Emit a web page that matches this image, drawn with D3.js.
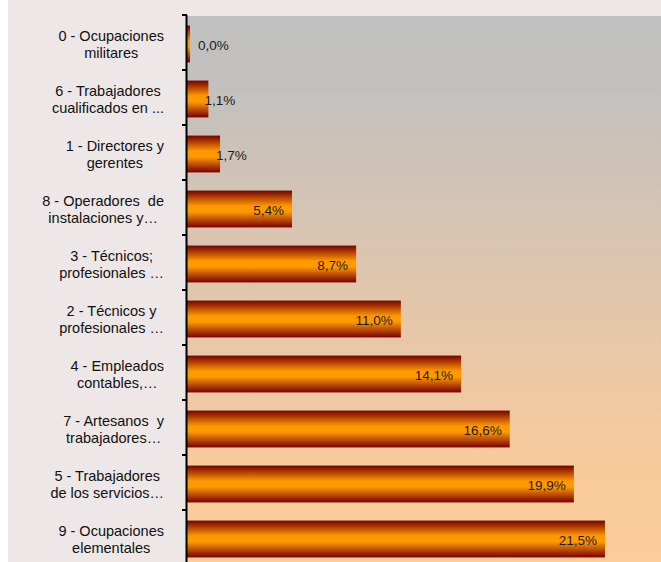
<!DOCTYPE html>
<html>
<head>
<meta charset="utf-8">
<script src="https://cdn.jsdelivr.net/npm/d3@7"></script>
<style>
    body { margin: 0; background: #ffffff; }
    text { font-family: "Liberation Sans", Arial, sans-serif; white-space: pre; }
</style>
</head>
<body>
<div id="chart"></div>
<script>
// categories, top to bottom, as the two wrapped lines shown
const categories = [
    ["0 - Ocupaciones", "militares"],
    ["6 - Trabajadores", "cualificados en ..."],
    ["1 - Directores y", "gerentes"],
    ["8 - Operadores  de", "instalaciones y…"],
    ["3 - Técnicos;", "profesionales …"],
    ["2 - Técnicos y", "profesionales …"],
    ["4 - Empleados", "contables,…"],
    ["7 - Artesanos  y", "trabajadores…"],
    ["5 - Trabajadores", "de los servicios…"],
    ["9 - Ocupaciones", "elementales"]
];
const values = [0.04, 1.1, 1.7, 5.4, 8.7, 11.0, 14.1, 16.6, 19.9, 21.5];
const xDomain = [0, 25];

function drawChart() {
    d3.select("#chart svg").remove();

    const W = 661, H = 562;
    const margin = { top: 15, right: -12, bottom: -3, left: 187 };
    const width = W - margin.left - margin.right;
    const height = H - margin.top - margin.bottom;

    const svg = d3.select("#chart")
        .append("svg")
        .attr("width", W)
        .attr("height", H);

    const defs = svg.append("defs");

    const bg = defs.append("linearGradient")
        .attr("id", "plotBg")
        .attr("x1", 0).attr("y1", 0).attr("x2", 0).attr("y2", 1);
    bg.append("stop").attr("offset", "0%").attr("stop-color", "#c0c0c0");
    bg.append("stop").attr("offset", "12%").attr("stop-color", "#c2c0bf");
    bg.append("stop").attr("offset", "82%").attr("stop-color", "#f9cb9c");
    bg.append("stop").attr("offset", "100%").attr("stop-color", "#fccc9b");

    const barGrad = defs.append("linearGradient")
        .attr("id", "barGrad")
        .attr("x1", 0).attr("y1", 0).attr("x2", 0).attr("y2", 1);
    barGrad.append("stop").attr("offset", "0%").attr("stop-color", "#780000");
    barGrad.append("stop").attr("offset", "42%").attr("stop-color", "#ff9900");
    barGrad.append("stop").attr("offset", "58%").attr("stop-color", "#ff9900");
    barGrad.append("stop").attr("offset", "100%").attr("stop-color", "#780000");

    // outer chart area
    svg.append("rect")
        .attr("x", 8).attr("y", 0)
        .attr("width", W - 8).attr("height", H)
        .attr("fill", "#ede7e7");

    const g = svg.append("g")
        .attr("transform", `translate(${margin.left}, ${margin.top})`);

    g.append("rect")
        .attr("x", 0).attr("y", 1)
        .attr("width", width).attr("height", height)
        .attr("fill", "url(#plotBg)");

    const xScale = d3.scaleLinear()
        .domain(xDomain)
        .range([0, width]);

    const yScale = d3.scaleBand()
        .domain(d3.range(categories.length))
        .range([0, height])
        .padding(0);

    const barH = yScale.bandwidth() * 0.67;
    const barOff = (yScale.bandwidth() - barH) / 2 + 1.5;
    const barW = d => Math.max(xScale(d) - xScale(0), 3);

    g.selectAll(".bar")
        .data(values)
        .enter()
        .append("rect")
        .attr("class", "bar")
        .attr("x", 0)
        .attr("y", (d, i) => yScale(i) + barOff)
        .attr("width", barW)
        .attr("height", barH)
        .attr("fill", "url(#barGrad)");

    const fmt = d => d3.format(".1f")(d).replace(".", ",") + "%";

    g.selectAll(".val")
        .data(values)
        .enter()
        .append("text")
        .attr("class", "val")
        .attr("x", d => barW(d) < 40 ? Math.max(11, barW(d) - 4) : barW(d) - 8)
        .attr("y", (d, i) => yScale(i) + barOff + barH / 2 + 1)
        .attr("dy", "0.35em")
        .attr("text-anchor", d => barW(d) < 40 ? "start" : "end")
        .attr("font-size", "13.5px")
        .attr("fill", "#1a1a1a")
        .text(fmt);

    // axis line and ticks at category boundaries
    g.append("line")
        .attr("x1", -0.5).attr("x2", -0.5)
        .attr("y1", 0).attr("y2", height)
        .attr("stroke", "#000").attr("stroke-width", 2);

    const tickPos = d3.range(categories.length + 1).map(i => i * yScale.step());
    g.selectAll(".tick")
        .data(tickPos)
        .enter()
        .append("line")
        .attr("class", "tick")
        .attr("x1", -5).attr("x2", 0)
        .attr("y1", d => d).attr("y2", d => d)
        .attr("stroke", "#000").attr("stroke-width", 2);

    // category labels: lines centred on each other, block right aligned
    const labelRight = -23;
    categories.forEach((lines, i) => {
        const cy = yScale(i) + barOff + barH / 2;
        const t = g.append("text")
            .attr("font-size", "14.5px")
            .attr("fill", "#111")
            .attr("text-anchor", "middle");
        const spans = lines.map((line, j) => t.append("tspan")
            .attr("y", cy + (j - 0.5) * 17)
            .attr("dy", "0.35em")
            .text(line));
        const maxW = d3.max(spans, s => s.node().getComputedTextLength());
        spans.forEach(s => s.attr("x", labelRight - maxW / 2));
    });
}

drawChart();
</script>
</body>
</html>
